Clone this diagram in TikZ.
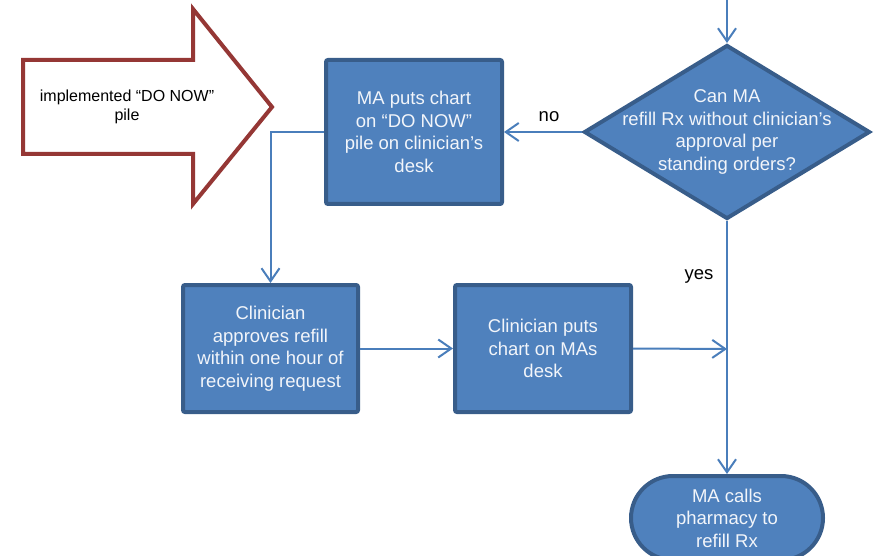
\documentclass[tikz,border=0pt]{standalone}
\usepackage{fontspec}
\setmainfont{Liberation Sans}
\usetikzlibrary{arrows.meta,shapes.geometric,shapes.misc}
\definecolor{boxfill}{HTML}{4F81BD}
\definecolor{boxline}{HTML}{385D8A}
\definecolor{conn}{HTML}{4A7EBB}
\definecolor{redline}{HTML}{953735}
\definecolor{boxtext}{HTML}{F2F5FA}
\tikzset{
  flowbox/.style={draw=boxline, fill=boxfill, line width=4pt, rounded corners=2pt,
    text=boxtext, align=center, inner sep=0pt,
    font=\fontsize{18.5}{22.5}\selectfont},
  decision/.style={diamond, draw=boxline, fill=boxfill, line width=4pt,
    inner sep=0pt, line join=miter},
  boxlabel/.style={text=boxtext, align=center, inner sep=0pt,
    font=\fontsize{18.5}{22.5}\selectfont},
  terminal/.style={rounded rectangle, draw=boxline, fill=boxfill, line width=4pt,
    text=boxtext, align=center, inner sep=0pt,
    font=\fontsize{18.5}{22.5}\selectfont},
  conline/.style={draw=conn, line width=2pt},
  conarrow/.style={conline, -{Straight Barb[length=13pt,width=18pt,line width=2pt]}},
  lbl/.style={font=\fontsize{18.5}{22.5}\selectfont, text=black, inner sep=0pt},
}
\begin{document}
\begin{tikzpicture}[x=1pt,y=-1pt]
\useasboundingbox (0,0) rectangle (875,556);
\clip (0,0) rectangle (875,556);
% big red arrow
\draw[redline, fill=white, line width=4pt, line join=miter]
  (23,60) -- (193,60) -- (193,9) -- (272,107) -- (193,204) -- (193,154) -- (23,154) -- cycle;
\node[align=center, inner sep=0pt, font=\fontsize{16}{19.5}\selectfont] (arrowtxt) at (127,107)
  {implemented “DO NOW”\\pile};
% nodes
\node[flowbox, minimum width=176pt, minimum height=144pt] (doNow) at (414,132)
  {MA puts chart\\on “DO NOW”\\pile on clinician’s\\desk};
\node[decision, minimum width=286pt, minimum height=174pt] (dec) at (727,132) {};
\node[boxlabel] (dectxt) at (727,132)
  {Can MA\\refill Rx without clinician's\\approval per\\standing orders?};
\node[flowbox, minimum width=175pt, minimum height=127pt] (approve) at (270.5,348.5)
  {Clinician\\approves refill\\within one hour of\\receiving request};
\node[flowbox, minimum width=176pt, minimum height=127pt] (puts) at (543,348.5)
  {Clinician puts\\chart on MAs\\desk};
\node[terminal, minimum width=192pt, minimum height=84pt] (calls) at (727,518)
  {MA calls\\pharmacy to\\refill Rx};
\coordinate (topin) at (727,-2);
\coordinate (join) at (727,349);
% connectors
\draw[conarrow] (topin) -- (dec.north);
\draw[conarrow] (dec.west) -- (doNow.east);
\draw[conarrow] (doNow.west) -| (approve.north);
\draw[conarrow] (approve.east) -- (puts.west);
\draw[conarrow] (puts.east) -- (join);
\draw[conarrow] (dec.south) -- (calls.north);
% labels
\node[lbl] (nolbl) at (549,117) {no};
\node[lbl] (yeslbl) at (699,276) {yes};
\end{tikzpicture}
\end{document}
